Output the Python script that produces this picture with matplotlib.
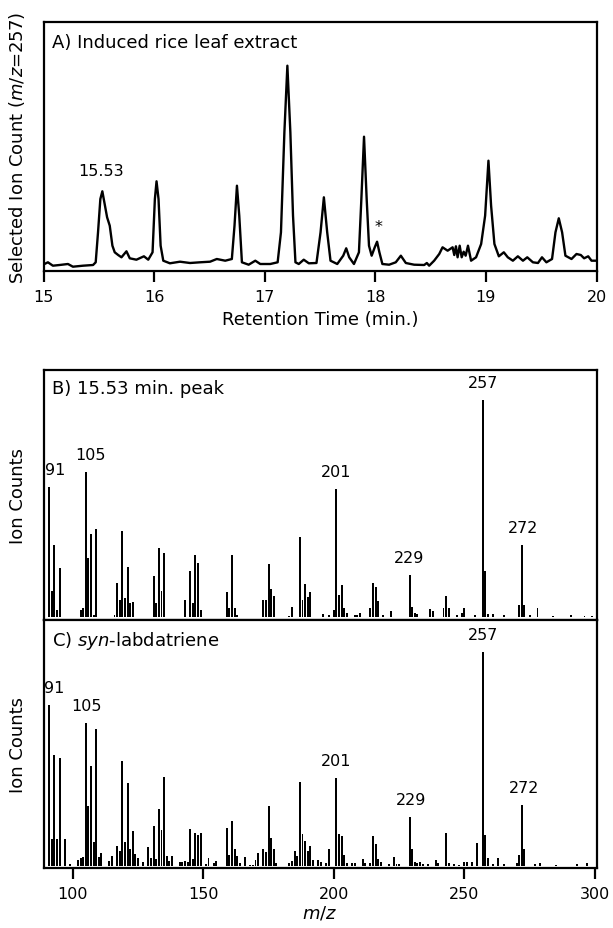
import matplotlib
matplotlib.use("Agg")
import matplotlib.pyplot as plt

plt.rcParams['font.family'] = ['DejaVu Sans']
plt.rcParams['mathtext.fontset'] = 'dejavusans'

# ---------------- Panel A: chromatogram (m/z = 257) ----------------
rt_min = [15.009, 15.04, 15.085, 15.145, 15.221, 15.266, 15.357, 15.448, 15.472, 15.493,
          15.514, 15.532, 15.553, 15.575, 15.599, 15.623, 15.644, 15.675, 15.705, 15.750,
          15.780, 15.840, 15.908, 15.947, 15.986, 16.007, 16.022, 16.040, 16.059, 16.083,
          16.143, 16.234, 16.325, 16.415, 16.506, 16.567, 16.643, 16.703, 16.727, 16.749,
          16.770, 16.794, 16.855, 16.915, 16.960, 17.050, 17.117, 17.147, 17.178, 17.205,
          17.232, 17.256, 17.278, 17.308, 17.353, 17.399, 17.468, 17.505, 17.535, 17.565,
          17.595, 17.656, 17.710, 17.737, 17.764, 17.807, 17.852, 17.874, 17.898, 17.922,
          17.943, 17.967, 17.995, 18.016, 18.037, 18.064, 18.125, 18.185, 18.231, 18.276,
          18.351, 18.442, 18.466, 18.487, 18.532, 18.578, 18.608, 18.654, 18.699, 18.714,
          18.729, 18.744, 18.763, 18.781, 18.799, 18.817, 18.838, 18.866, 18.911, 18.957,
          18.993, 19.023, 19.047, 19.077, 19.117, 19.162, 19.198, 19.244, 19.289, 19.335,
          19.374, 19.425, 19.471, 19.507, 19.547, 19.598, 19.629, 19.659, 19.689, 19.719,
          19.774, 19.819, 19.858, 19.888, 19.925, 19.955, 20.000]
ion_count = [7.0, 8.7, 5.3, 6.0, 7.0, 4.3, 5.3, 6.0, 8.7, 38.7,
             72.0, 79.7, 67.0, 53.7, 45.3, 25.3, 18.7, 16.0, 13.7, 19.7,
             12.7, 11.3, 14.7, 11.3, 18.7, 72.0, 89.7, 72.0, 25.3, 10.3,
             7.7, 9.3, 8.0, 8.7, 9.3, 12.0, 10.3, 12.0, 45.3, 85.3,
             55.3, 8.7, 6.3, 10.3, 7.0, 7.0, 8.7, 38.7, 138.7, 205.3,
             138.7, 55.3, 8.7, 7.0, 11.3, 7.7, 8.0, 38.7, 73.7, 38.7,
             10.3, 7.0, 15.3, 22.7, 13.7, 7.0, 18.7, 72.0, 134.3, 72.0,
             25.3, 15.3, 23.7, 29.3, 18.7, 7.0, 6.3, 8.7, 15.3, 8.0,
             6.3, 6.0, 8.0, 5.3, 10.3, 17.0, 23.7, 20.3, 23.7, 16.0,
             24.7, 13.7, 25.3, 13.7, 19.3, 15.3, 25.3, 10.3, 13.7, 27.0,
             55.3, 110.3, 65.3, 27.0, 14.7, 18.7, 13.7, 10.3, 14.7, 10.3,
             13.7, 8.7, 8.0, 13.7, 8.7, 12.0, 38.7, 52.7, 38.7, 15.3,
             12.0, 17.0, 16.0, 12.7, 14.7, 10.3, 10.3]
rt_ticks = [15, 16, 17, 18, 19, 20]

# ---------------- Panel B: 15.53 min peak spectrum ----------------
mz_b = [91, 92, 93, 94, 95, 103, 104, 105, 106, 107, 108, 109,
        116, 117, 118, 119, 120, 121, 122, 123, 131, 132, 133, 134, 135,
        143, 145, 146, 147, 148, 149, 159, 160, 161, 162, 163,
        173, 174, 175, 176, 177, 183, 184, 187, 188, 189, 190, 191,
        196, 198, 200, 201, 202, 203, 204, 205, 208, 209, 210, 214,
        215, 216, 217, 219, 222, 229, 230, 231, 232, 237, 238, 242, 243, 244,
        247, 249, 250, 254, 257, 258, 259, 261, 265, 271, 272, 273, 275, 278,
        284, 291, 296, 299]
int_b = [60, 12, 33, 3, 22.6, 3.4, 4, 67, 27, 38, 1, 40.6,
         1, 15.7, 7.7, 39.5, 8.8, 23, 6.5, 7, 19, 6.5, 32, 12, 29.5,
         8, 21, 6.5, 28.7, 25, 3.4, 11.5, 4, 28.7, 4, 1,
         7.7, 7.7, 24.6, 13, 9.5, 0.5, 4.6, 37, 8, 15, 9, 11.5,
         1.5, 1, 3.4, 59, 10, 14.6, 4, 2, 1, 1, 2, 4,
         15.7, 14, 7.5, 1, 2.7, 19.4, 4.7, 2, 1.5, 3.7, 2.6, 4, 9.8, 4,
         1, 2, 4, 1, 100, 21, 1.4, 1.4, 1, 5.5, 33, 5.5, 1, 4,
         0.5, 1, 0.5, 0.5]
labels_b = ['91', '105', '201', '229', '257', '272']
label_mz_b = [93.1, 106.7, 201, 229, 257, 272.5]
label_h_b = [60, 67, 59, 19.4, 100, 33]

# ---------------- Panel C: syn-labdatriene reference spectrum ----------------
mz_c = [91, 92, 93, 94, 95, 97, 99, 102, 103, 104, 105, 106, 107, 108, 109, 110, 111,
        114, 115, 117, 118, 119, 120, 121, 122, 123, 124, 125, 127,
        129, 130, 131, 132, 133, 134, 135, 136, 137, 138,
        141, 142, 143, 144, 145, 146, 147, 148, 149, 151, 152,
        154, 155, 159, 160, 161, 162, 163, 164, 166, 168, 169, 170, 171,
        173, 174, 175, 176, 177, 178, 183, 184, 185, 186, 187, 188, 189, 190, 191, 192,
        194, 195, 197, 198, 201, 202, 203, 204, 205, 207, 208, 211, 212,
        214, 215, 216, 217, 218, 221, 223, 224, 225, 229, 230, 231, 232, 233, 234, 236,
        239, 240, 243, 244, 246, 248, 250, 251, 253, 255, 257, 258, 259, 261, 263, 265,
        270, 271, 272, 273, 277, 279, 285, 293, 297]
int_c = [75.3, 12.5, 51.6, 12.5, 50.3, 12.5, 0.8, 2.7, 3.4, 3.9, 66.9, 28.1, 46.9, 10.9, 63.8, 3.9, 5.9,
         2.3, 4.7, 9.1, 6.6, 48.8, 10.9, 38.8, 7.8, 16.4, 5.5, 3.4, 1.9,
         8.6, 3.4, 18.4, 3.1, 26.3, 16.9, 41.4, 4.7, 2.3, 4.7,
         1.6, 1.6, 2.2, 1.6, 17.2, 3.1, 15.3, 14.1, 15.3, 0.8, 3.4,
         1.2, 2.3, 17.6, 4.9, 20.9, 7.7, 4.6, 1.2, 3.8, 0.5, 0.5, 2.7, 5.9,
         7.7, 6.5, 27.7, 12.7, 7.7, 1.2, 1.2, 2.3, 6.6, 4.3, 39, 14.8, 11.3, 6.6, 9, 2.7,
         2.7, 1.5, 1.2, 8, 40.9, 14.8, 13.7, 4.9, 1.2, 1.2, 1.2, 3.2, 1,
         1.2, 13.7, 10, 3, 1.8, 0.7, 3.8, 0.7, 0.7, 22.6, 7.7, 1.5, 1.2, 1.8, 0.7, 0.7,
         2.6, 1.2, 15.1, 1.2, 0.7, 0.3, 1.8, 1.8, 1.5, 10.5, 100, 14.3, 3.4, 0.7, 3.4, 0.7,
         1.2, 4.9, 28.4, 8, 0.7, 1.2, 0.3, 0.7, 1.2]
labels_c = ['91', '105', '201', '229', '257', '272']
label_mz_c = [92.8, 105.2, 200.8, 229.7, 257, 272.7]
label_h_c = [75.3, 66.9, 40.9, 22.6, 100, 28.4]

mz_ticks = [100, 150, 200, 250, 300]

# ---------------- Figure ----------------
W, H = 613, 929
fig = plt.figure(figsize=(W / 100, H / 100), dpi=100)

def rect(left, top, right, bottom):
    return [left / W, 1 - bottom / H, (right - left) / W, (bottom - top) / H]

ax_a = fig.add_axes(rect(43.5, 23, 596.5, 272))
ax_b = fig.add_axes(rect(43.5, 371, 596.5, 621))
ax_c = fig.add_axes(rect(43.5, 621, 596.5, 868.5))

for ax in (ax_a, ax_b, ax_c):
    for s in ax.spines.values():
        s.set_linewidth(1.6)
        s.set_color('black')
    ax.set_yticks([])

WORD = 13
NUM = 11.5

# Panel A
ax_a.plot(rt_min, ion_count, color='black', lw=1.7, solid_joinstyle='round')
ax_a.set_xlim(15, 20)
ax_a.set_ylim(0, 249)
ax_a.set_xticks(rt_ticks)
ax_a.set_xticklabels([str(t) for t in rt_ticks])
ax_a.tick_params(axis='x', direction='out', length=8, width=1.6, labelsize=NUM, pad=5)
ax_a.set_xlabel('Retention Time (min.)', fontsize=WORD, labelpad=4)
ax_a.set_ylabel('Selected Ion Count ($\\it{m/z}$=257)', fontsize=WORD)
ax_a.text(0.015, 0.955, 'A) Induced rice leaf extract', transform=ax_a.transAxes,
          fontsize=WORD, va='top', ha='left')
ax_a.annotate('15.53', xy=(15.532, 79.7), xytext=(-1, 15), textcoords='offset points',
              ha='center', va='center', fontsize=NUM)
ax_a.annotate('*', xy=(18.016, 29.3), xytext=(1, 11), textcoords='offset points',
              ha='center', va='center', fontsize=NUM)

# Panels B and C
def spectrum(ax, mz, inten, labels, lx, lh, ylim):
    ax.bar(mz, inten, width=0.75, color='black', linewidth=0)
    ax.set_xlim(88.8, 300.6)
    ax.set_ylim(*ylim)
    for lab, x, h in zip(labels, lx, lh):
        ax.annotate(lab, xy=(x, h), xytext=(0, 12.5), textcoords='offset points',
                    ha='center', va='center', fontsize=NUM)
    ax.set_ylabel('Ion Counts', fontsize=WORD)

spectrum(ax_b, mz_b, int_b, labels_b, label_mz_b, label_h_b, (-1.4, 113.8))
spectrum(ax_c, mz_c, int_c, labels_c, label_mz_c, label_h_c, (-0.9, 115.1))

ax_b.set_xticks([])
ax_b.text(0.015, 0.965, 'B) 15.53 min. peak', transform=ax_b.transAxes,
          fontsize=WORD, va='top', ha='left')
ax_c.text(0.015, 0.965, 'C) $\\it{syn}$-labdatriene', transform=ax_c.transAxes,
          fontsize=WORD, va='top', ha='left')

ax_c.set_xticks(mz_ticks)
ax_c.set_xticklabels([str(t) for t in mz_ticks])
ax_c.tick_params(axis='x', direction='out', length=8, width=1.6, labelsize=NUM, pad=5)
ax_c.set_xlabel('$\\it{m/z}$', fontsize=WORD, labelpad=2)

for ax in (ax_a, ax_b, ax_c):
    ax.yaxis.set_label_coords(-0.03, 0.5)

fig.savefig('out.png', dpi=100)
